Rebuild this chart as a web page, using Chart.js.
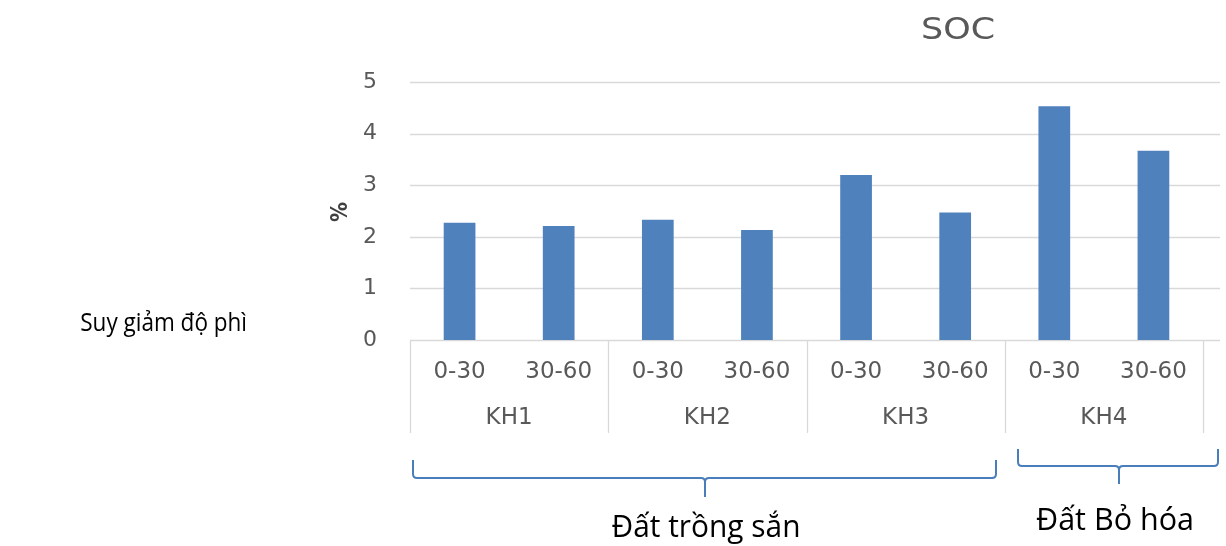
<!DOCTYPE html>
<html>
<head>
<meta charset="utf-8">
<script src="https://cdn.jsdelivr.net/npm/chart.js@4.4.1/dist/chart.umd.min.js"></script>
<style>
  html, body { margin: 0; padding: 0; background: #ffffff; }
  #wrap { position: relative; width: 1226px; height: 546px; }
</style>
</head>
<body>
<div id="wrap"><canvas id="soc" width="1226" height="546"></canvas></div>
<script>
// Soil organic carbon (%) by sampling depth (cm) at four sites
const depthLabels = ['0-30', '30-60', '0-30', '30-60', '0-30', '30-60', '0-30', '30-60'];
const siteLabels = ['KH1', 'KH2', 'KH3', 'KH4'];
const socValues = [2.27, 2.21, 2.33, 2.13, 3.20, 2.47, 4.53, 3.67];
const yTickValues = [0, 1, 2, 3, 4, 5];
const chartTitle = 'SOC';
const yAxisTitle = '%';
const sideNote = 'Suy giảm độ phì';
const landUseLabels = ['Đất trồng sắn', 'Đất Bỏ hóa'];

// Page layout (pixels)
const LAYOUT = {
  gridRight: 1220,
  sepBottom: 433,
  subLabelY: 372,
  groupLabelY: 418,
  title: { x: 958, baseline: 39, width: 74 },
  yTitle: { x: 341, y: 212 },
  sideNote: { right: 247, baseline: 331 },
  brackets: [
    { x1: 413, x2: 996, xc: 705, yTop: 460, yH: 478, yTip: 497 },
    { x1: 1018, x2: 1218, xc: 1119, yTop: 449, yH: 466, yTip: 484 }
  ],
  landText: [
    { x: 706, baseline: 537, width: 189 },
    { x: 1115, baseline: 530, width: 158 }
  ]
};

const TICK_FONT = '23px "DejaVu Sans"';
const TICK_COLOR = '#595959';
const GRID_COLOR = '#d9d9d9';
const BAR_COLOR = '#4f81bd';
const BRACKET_COLOR = '#4a7ebb';

function drawFitted(ctx, text, cx, baseline, font, color, width) {
  ctx.save();
  ctx.font = font;
  ctx.fillStyle = color;
  ctx.textAlign = 'center';
  ctx.textBaseline = 'alphabetic';
  const w = ctx.measureText(text).width;
  const sx = width ? width / w : 1;
  ctx.translate(cx, baseline);
  ctx.scale(sx, 1);
  ctx.fillText(text, 0, 0);
  ctx.restore();
}

function drawBracket(ctx, b) {
  const r = 4;
  ctx.save();
  ctx.strokeStyle = BRACKET_COLOR;
  ctx.lineWidth = 2;
  ctx.lineJoin = 'round';
  ctx.beginPath();
  ctx.moveTo(b.x1, b.yTop);
  ctx.lineTo(b.x1, b.yH - r);
  ctx.quadraticCurveTo(b.x1, b.yH, b.x1 + r, b.yH);
  ctx.lineTo(b.xc - r, b.yH);
  ctx.quadraticCurveTo(b.xc, b.yH, b.xc, b.yH + r);
  ctx.lineTo(b.xc, b.yTip);
  ctx.moveTo(b.xc, b.yH + r);
  ctx.quadraticCurveTo(b.xc, b.yH, b.xc + r, b.yH);
  ctx.lineTo(b.x2 - r, b.yH);
  ctx.quadraticCurveTo(b.x2, b.yH, b.x2, b.yH - r);
  ctx.lineTo(b.x2, b.yTop);
  ctx.stroke();
  ctx.restore();
}

// Gridlines, baseline and group separators drawn under the bars
const gridPlugin = {
  id: 'excelGrid',
  beforeDatasetsDraw(chart) {
    const { ctx, chartArea, scales } = chart;
    const y = scales.y, x = scales.x;
    ctx.save();
    ctx.strokeStyle = GRID_COLOR;
    ctx.lineWidth = 1.3;
    yTickValues.forEach(v => {
      const py = Math.round(y.getPixelForValue(v)) + 0.5;
      ctx.beginPath();
      ctx.moveTo(chartArea.left, py);
      ctx.lineTo(LAYOUT.gridRight, py);
      ctx.stroke();
    });
    // separators between site groups
    const half = (x.getPixelForValue(1) - x.getPixelForValue(0)) / 2;
    const base = Math.round(y.getPixelForValue(0));
    for (let g = 0; g <= siteLabels.length; g++) {
      const px = g < siteLabels.length
        ? x.getPixelForValue(g * 2) - half
        : x.getPixelForValue(depthLabels.length - 1) + half;
      ctx.beginPath();
      ctx.moveTo(Math.round(px) + 0.5, base);
      ctx.lineTo(Math.round(px) + 0.5, LAYOUT.sepBottom);
      ctx.stroke();
    }
    ctx.restore();
  },
  afterDraw(chart) {
    const { ctx, scales } = chart;
    const x = scales.x;
    ctx.save();
    ctx.font = TICK_FONT;
    ctx.fillStyle = TICK_COLOR;
    ctx.textAlign = 'center';
    ctx.textBaseline = 'middle';
    depthLabels.forEach((lab, i) => {
      ctx.fillText(lab, x.getPixelForValue(i), LAYOUT.subLabelY);
    });
    siteLabels.forEach((lab, g) => {
      const cx = (x.getPixelForValue(g * 2) + x.getPixelForValue(g * 2 + 1)) / 2;
      ctx.fillText(lab, cx, LAYOUT.groupLabelY);
    });
    ctx.restore();

    // chart title
    drawFitted(ctx, chartTitle, LAYOUT.title.x, LAYOUT.title.baseline,
      '31px "DejaVu Sans"', TICK_COLOR, LAYOUT.title.width);

    // y axis title
    ctx.save();
    ctx.translate(LAYOUT.yTitle.x, LAYOUT.yTitle.y);
    ctx.rotate(-Math.PI / 2);
    ctx.scale(1, 1.15);
    ctx.font = 'bold 20px "DejaVu Sans"';
    ctx.fillStyle = '#404040';
    ctx.textAlign = 'center';
    ctx.textBaseline = 'middle';
    ctx.fillText(yAxisTitle, 0, 0);
    ctx.restore();

    // side note
    ctx.save();
    ctx.font = '25px "Open Sans"';
    ctx.fillStyle = '#000000';
    ctx.textAlign = 'right';
    ctx.textBaseline = 'alphabetic';
    ctx.translate(LAYOUT.sideNote.right, LAYOUT.sideNote.baseline);
    ctx.scale(0.9, 1);
    ctx.fillText(sideNote, 0, 0);
    ctx.restore();

    // land-use brackets
    LAYOUT.brackets.forEach(b => drawBracket(ctx, b));
    landUseLabels.forEach((lab, i) => {
      const t = LAYOUT.landText[i];
      drawFitted(ctx, lab, t.x, t.baseline, '31px "Open Sans"', '#000000', t.width);
    });
  }
};

new Chart(document.getElementById('soc'), {
  type: 'bar',
  data: {
    labels: depthLabels,
    datasets: [{
      label: chartTitle,
      data: socValues,
      backgroundColor: BAR_COLOR,
      borderWidth: 0,
      categoryPercentage: 1.0,
      barPercentage: 0.32
    }]
  },
  options: {
    responsive: false,
    animation: false,
    devicePixelRatio: 1,
    layout: { padding: { top: 82, right: 23, left: 0, bottom: 0 } },
    plugins: {
      legend: { display: false },
      title: { display: false },
      tooltip: { enabled: false }
    },
    scales: {
      x: {
        grid: { display: false },
        border: { display: false },
        ticks: { display: false },
        afterFit(scale) { scale.height = 206; }
      },
      y: {
        min: 0,
        max: 5,
        grid: { display: false },
        border: { display: false },
        ticks: {
          stepSize: 1,
          padding: 25,
          color: TICK_COLOR,
          font: { family: 'DejaVu Sans', size: 22 }
        },
        afterFit(scale) { scale.width = 410; }
      }
    }
  },
  plugins: [gridPlugin]
});
</script>
</body>
</html>
